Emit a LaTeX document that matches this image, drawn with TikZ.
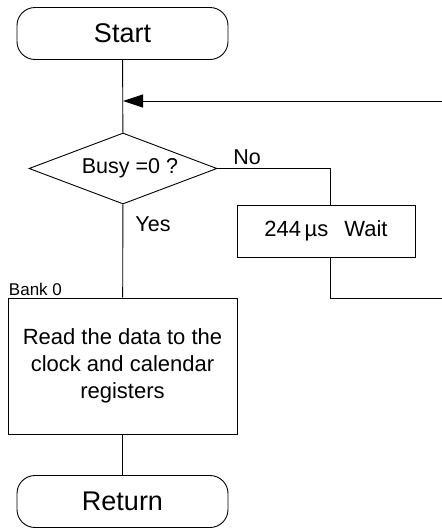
\documentclass[tikz,border=0pt]{standalone}
\usepackage{fontspec}
\setmainfont{Liberation Sans}
\usetikzlibrary{shapes.geometric,arrows.meta}

\tikzset{
  terminal/.style={draw, rectangle, rounded corners=18pt, minimum width=211pt,
    minimum height=52pt, font=\fontsize{27}{30}\selectfont},
  decision/.style={draw, diamond, aspect=2.65, minimum width=188pt, minimum height=71pt,
    inner sep=0pt, font=\fontsize{21.5}{24}\selectfont},
  process/.style={draw, rectangle, inner sep=0pt, align=center,
    font=\fontsize{22}{27}\selectfont},
  flow/.style={draw, line width=0.9pt},
  smalltext/.style={font=\fontsize{21.5}{24}\selectfont, inner sep=1pt},
}

\begin{document}
\begin{tikzpicture}[x=1pt,y=-1pt, line width=0.9pt]
      \useasboundingbox (0,0) rectangle (442,528);

      \node[terminal] (start) at (122.5,33.5) {Start};
      \node[decision] (busy) at (123,168.5) {\raisebox{-4pt}{\hspace{14pt}Busy =0 ?}};
      \node[process, minimum width=178pt, minimum height=52pt] (wait) at (326,231)
        {244\,µs\hspace{16pt}Wait};
      \node[process, minimum width=229pt, minimum height=136pt] (read) at (122.5,366)
        {\raisebox{4pt}{\parbox{220pt}{\centering Read the data to the\\ clock and calendar\\ registers}}};
      \node[terminal] (return) at (122.5,501.5) {Return};

      \coordinate (merge) at (123,101);
      \coordinate (loopin) at (442,101);
      \coordinate (loopout) at (442,298.5);

      \draw[flow] (start) -- (busy);
      \draw[flow, -{Triangle[length=20pt,width=13pt]}] (loopin) -- (merge);
      \draw[flow] (busy.east) -| ([xshift=4pt]wait.north);
      \draw[flow] ([xshift=4pt]wait.south) |- (loopout);
      \draw[flow] (busy) -- (read);
      \draw[flow] (read) -- (return);

      \node[smalltext, anchor=south west] (no) at (232,166) {No};
      \node[smalltext, anchor=west] (yes) at (134,224) {Yes};
      \node[anchor=south west, inner sep=1pt, font=\fontsize{17}{19}\selectfont] (bank)
        at (read.north west) {Bank 0};
\end{tikzpicture}
\end{document}
